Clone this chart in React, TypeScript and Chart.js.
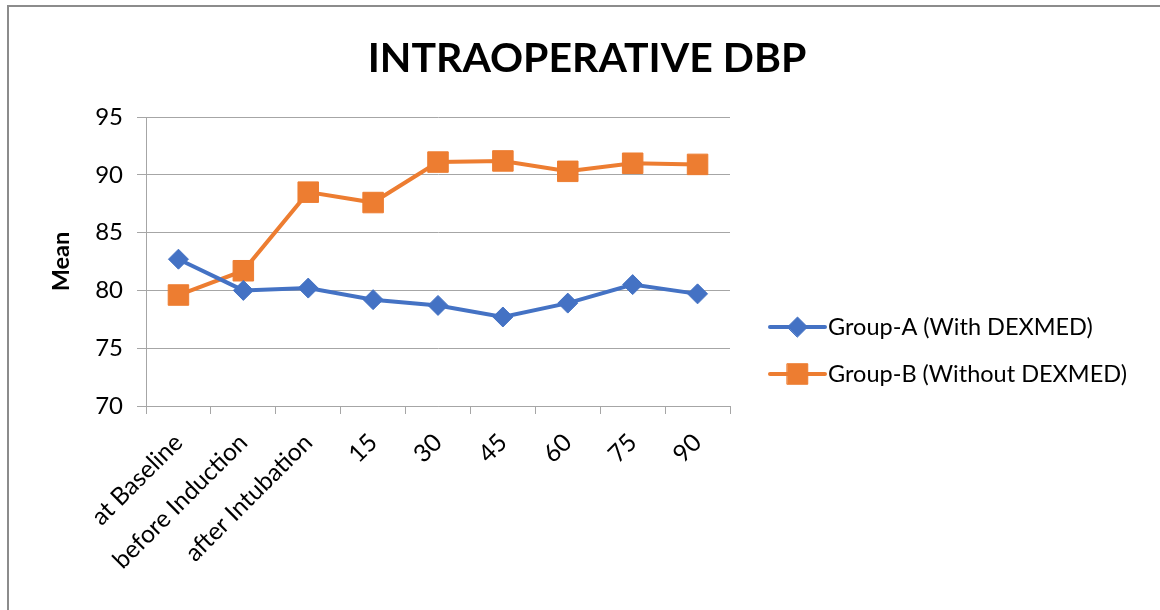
import { useEffect, useRef } from "react";
import { Chart, registerables } from "chart.js";

Chart.register(...registerables);

const categories = [
  "at Baseline",
  "before Induction",
  "after Intubation",
  "15",
  "30",
  "45",
  "60",
  "75",
  "90",
];
const groupA = [82.7, 80.0, 80.2, 79.2, 78.7, 77.7, 78.9, 80.5, 79.7];
const groupB = [79.6, 81.7, 88.5, 87.6, 91.1, 91.2, 90.3, 91.0, 90.9];
const seriesNames = ["Group-A (With DEXMED)", "Group-B (Without DEXMED)"];
const yMin = 70;
const yMax = 95;
const yStep = 5;
const titleText = "INTRAOPERATIVE DBP";
const yAxisTitle = "Mean";

const FONT = "Lato, 'Open Sans', sans-serif";
const BLUE = "#4472C4";
const ORANGE = "#ED7D31";
const GRID = "#A6A6A6";

function drawMarker(ctx: CanvasRenderingContext2D, style: string, r: number, x: number, y: number) {
  ctx.beginPath();
  if (style === "rectRot") {
    ctx.moveTo(x - r, y);
    ctx.lineTo(x, y - r);
    ctx.lineTo(x + r, y);
    ctx.lineTo(x, y + r);
    ctx.closePath();
  } else {
    const s = Math.SQRT1_2 * r;
    ctx.rect(x - s, y - s, 2 * s, 2 * s);
  }
  ctx.fill();
  ctx.stroke();
}

const overlayPlugin = {
  id: "overlay",
  afterDraw(chart: any) {
    const { ctx, chartArea } = chart;
    ctx.save();
    // Title
    ctx.font = `bold 41px ${FONT}`;
    ctx.fillStyle = "#000";
    ctx.textAlign = "center";
    ctx.textBaseline = "middle";
    ctx.fillText(titleText, 587, 59);

    // Legend
    const x0 = chartArea.right + 40;
    const rows = [chartArea.top + 210, chartArea.top + 257];
    chart.data.datasets.forEach((ds: any, i: number) => {
      const y = rows[i];
      ctx.strokeStyle = ds.borderColor;
      ctx.lineWidth = ds.borderWidth;
      ctx.lineCap = "round";
      ctx.beginPath();
      ctx.moveTo(x0, y);
      ctx.lineTo(x0 + 55, y);
      ctx.stroke();
      ctx.fillStyle = ds.pointBackgroundColor;
      ctx.strokeStyle = ds.pointBorderColor;
      ctx.lineWidth = ds.pointBorderWidth;
      drawMarker(ctx, ds.pointStyle, ds.pointRadius, x0 + 27.5, y);
      ctx.fillStyle = "#000";
      ctx.font = `23.5px ${FONT}`;
      ctx.textAlign = "left";
      ctx.textBaseline = "middle";
      ctx.fillText(ds.label, x0 + 58, y);
    });
    ctx.restore();
  },
};

export default function App() {
  const canvasRef = useRef<HTMLCanvasElement | null>(null);

  useEffect(() => {
    const canvas = canvasRef.current;
    if (!canvas) return;
    const chart = new Chart(canvas, {
      type: "line",
      data: {
        labels: categories,
        datasets: [
          {
            label: seriesNames[0],
            data: groupA,
            borderColor: BLUE,
            backgroundColor: BLUE,
            pointBackgroundColor: BLUE,
            pointBorderColor: BLUE,
            borderWidth: 4,
            pointStyle: "rectRot",
            pointRadius: 10,
            pointBorderWidth: 1,
            tension: 0,
          } as any,
          {
            label: seriesNames[1],
            data: groupB,
            borderColor: ORANGE,
            backgroundColor: ORANGE,
            pointBackgroundColor: ORANGE,
            pointBorderColor: ORANGE,
            borderWidth: 4,
            pointStyle: "rect",
            pointRadius: 14.5,
            pointBorderWidth: 1,
            tension: 0,
          } as any,
        ],
      },
      options: {
        responsive: false,
        animation: false,
        devicePixelRatio: 1,
        layout: { padding: { left: 0, right: 430, top: 117, bottom: 0 } },
        plugins: {
          legend: { display: false },
          title: { display: false },
          tooltip: { enabled: false },
        },
        scales: {
          x: {
            type: "category",
            offset: true,
            grid: {
              offset: true,
              drawOnChartArea: false,
              drawTicks: true,
              tickLength: 8,
              color: GRID,
            },
            border: { display: true, color: GRID },
            ticks: {
              minRotation: 45,
              maxRotation: 45,
              autoSkip: false,
              color: "#000",
              font: { family: FONT, size: 24.5 },
              padding: 14,
            },
            afterFit: (scale: any) => {
              scale.height = 204;
            },
          },
          y: {
            min: yMin,
            max: yMax,
            ticks: {
              stepSize: yStep,
              color: "#000",
              font: { family: FONT, size: 24 },
              padding: 14,
            },
            grid: { color: GRID, tickLength: 9 },
            border: { display: true, color: GRID },
            title: {
              display: true,
              text: yAxisTitle,
              color: "#000",
              font: { family: FONT, size: 23.5, weight: "bold" },
              padding: { top: 47, bottom: 0 },
            },
            afterFit: (scale: any) => {
              scale.width = 146;
            },
          },
        },
      },
      plugins: [overlayPlugin],
    });
    return () => chart.destroy();
  }, []);

  return (
    <div
      style={{
        position: "absolute",
        left: 0,
        top: 0,
        width: 1160,
        height: 610,
        overflow: "hidden",
        background: "#fff",
      }}
    >
      <div
        style={{
          position: "absolute",
          left: 7,
          top: 5,
          width: 1170,
          height: 620,
          border: "2px solid #8C8C8C",
          boxSizing: "border-box",
        }}
      />
      <canvas
        ref={canvasRef}
        width={1160}
        height={610}
        style={{ position: "absolute", left: 0, top: 0, width: 1160, height: 610 }}
      />
    </div>
  );
}
